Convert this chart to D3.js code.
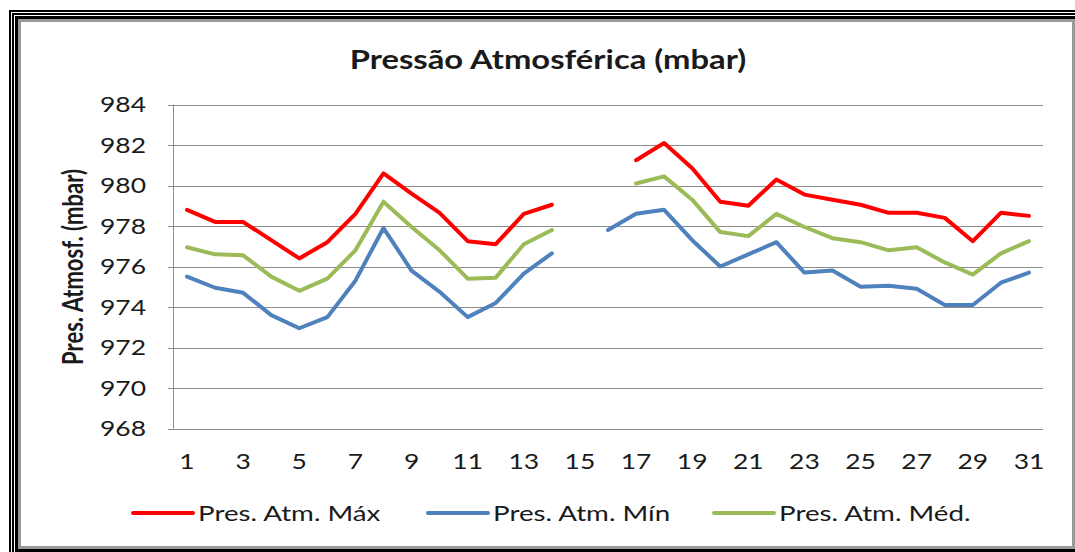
<!DOCTYPE html>
<html>
<head>
    <meta charset="utf-8">
    <script src="https://d3js.org/d3.v7.min.js"></script>
    <style>
        body { margin: 0; background: #fff; }
        svg text { font-family: Lato, "Open Sans", sans-serif; fill: #1a1a1a; }
    </style>
</head>
<body>
<div id="chart"></div>
<script>
    // dias do mes e valores (null = sem leitura)
    var days = d3.range(1, 32);
    var dayTicks = [1, 3, 5, 7, 9, 11, 13, 15, 17, 19, 21, 23, 25, 27, 29, 31];
    var yTicks = [968, 970, 972, 974, 976, 978, 980, 982, 984];
    var presMax = [978.8, 978.2, 978.2, 977.3, 976.4, 977.2, 978.6, 980.6, 979.6, 978.65, 977.25, 977.1, 978.6, 979.05,
        null, null,
        981.25, 982.1, 980.85, 979.2, 979.0, 980.3, 979.55, 979.3, 979.05, 978.65, 978.65, 978.4, 977.25, 978.65, 978.5];
    var presMin = [975.5, 974.95, 974.7, 973.6, 972.95, 973.5, 975.3, 977.9, 975.8, 974.75, 973.5, 974.2, 975.65, 976.65,
        null, 977.8,
        978.6, 978.8, 977.3, 976.0, 976.6, 977.2, 975.7, 975.8, 975.0, 975.05, 974.9, 974.1, 974.1, 975.2, 975.7];
    var presMed = [976.95, 976.6, 976.55, 975.5, 974.8, 975.4, 976.8, 979.2, 977.95, 976.8, 975.4, 975.45, 977.1, 977.8,
        null, null,
        980.1, 980.45, 979.3, 977.7, 977.5, 978.6, 977.95, 977.4, 977.2, 976.8, 976.95, 976.2, 975.6, 976.65, 977.25];
    var seriesNames = ["Pres. Atm. Máx", "Pres. Atm. Mín", "Pres. Atm. Méd."];
    var seriesColors = ["#ff0000", "#4f81bd", "#9bbb59"];

    var W = 1075, H = 552;
    var SX = 1.26; // o original esta esticado na horizontal

    var svg = d3.select("#chart").append("svg")
        .attr("width", W).attr("height", H);

    // moldura
    var frames = [
        { off: 1.5, w: 3, c: "#999" },
        { off: 4.5, w: 3, c: "#000" },
        { off: 8, w: 2, c: "#000" },
        { off: 11, w: 2, c: "#000" }
    ];
    var inner = { l: 21, t: 22, r: 1072, b: 546 };
    frames.forEach(function (f) {
        svg.append("rect")
            .attr("x", inner.l - f.off).attr("y", inner.t - f.off)
            .attr("width", inner.r - inner.l + 2 * f.off)
            .attr("height", inner.b - inner.t + 2 * f.off)
            .attr("fill", "none").attr("stroke", f.c).attr("stroke-width", f.w);
    });

    function label(x, y, s, size, anchor, bold) {
        return svg.append("text")
            .attr("transform", "translate(" + x + "," + y + ") scale(" + SX + ",1)")
            .attr("text-anchor", anchor)
            .style("font-size", size + "px")
            .style("font-weight", bold ? "bold" : "normal")
            .text(s);
    }

    var x = d3.scaleBand().domain(days).range([173, 1043]).padding(0);
    var y = d3.scaleLinear().domain([968, 984]).range([428.5, 104.5]);
    var cx = function (d) { return x(d) + x.bandwidth() / 2; };

    // grade
    svg.append("g").selectAll("line").data(yTicks).enter().append("line")
        .attr("x1", 168).attr("x2", 1043)
        .attr("y1", function (d) { return Math.round(y(d)) + 0.5; })
        .attr("y2", function (d) { return Math.round(y(d)) + 0.5; })
        .attr("stroke", "#8c8c8c").attr("stroke-width", 1);
    svg.append("line")
        .attr("x1", 173.5).attr("x2", 173.5)
        .attr("y1", y(984)).attr("y2", y(968))
        .attr("stroke", "#8c8c8c");

    yTicks.forEach(function (t) {
        label(146, y(t) + 7.5, t, 21, "end", false);
    });
    dayTicks.forEach(function (d) {
        label(cx(d), 469, d, 21, "middle", false);
    });

    // titulos
    label(548, 69, "Pressão Atmosférica (mbar)", 26, "middle", true);
    svg.append("text")
        .attr("transform", "translate(83,267) rotate(-90) scale(1," + SX + ")")
        .attr("text-anchor", "middle")
        .style("font-size", "22px").style("font-weight", "bold")
        .text("Pres. Atmosf. (mbar)");

    // linhas
    var line = d3.line()
        .defined(function (d) { return d.v !== null; })
        .x(function (d) { return cx(d.day); })
        .y(function (d) { return y(d.v); });
    [presMax, presMin, presMed].forEach(function (arr, i) {
        var pts = days.map(function (d, j) { return { day: d, v: arr[j] }; });
        svg.append("path")
            .datum(pts)
            .attr("d", line)
            .attr("fill", "none")
            .attr("stroke", seriesColors[i])
            .attr("stroke-width", 4)
            .attr("stroke-linejoin", "round")
            .attr("stroke-linecap", "round");
    });

    // legenda
    var legX = [133, 428, 714];
    seriesNames.forEach(function (n, i) {
        svg.append("line")
            .attr("x1", legX[i]).attr("x2", legX[i] + 60)
            .attr("y1", 513).attr("y2", 513)
            .attr("stroke", seriesColors[i]).attr("stroke-width", 4)
            .attr("stroke-linecap", "round");
        label(legX[i] + 65, 521, n, 22, "start", false);
    });
</script>
</body>
</html>
